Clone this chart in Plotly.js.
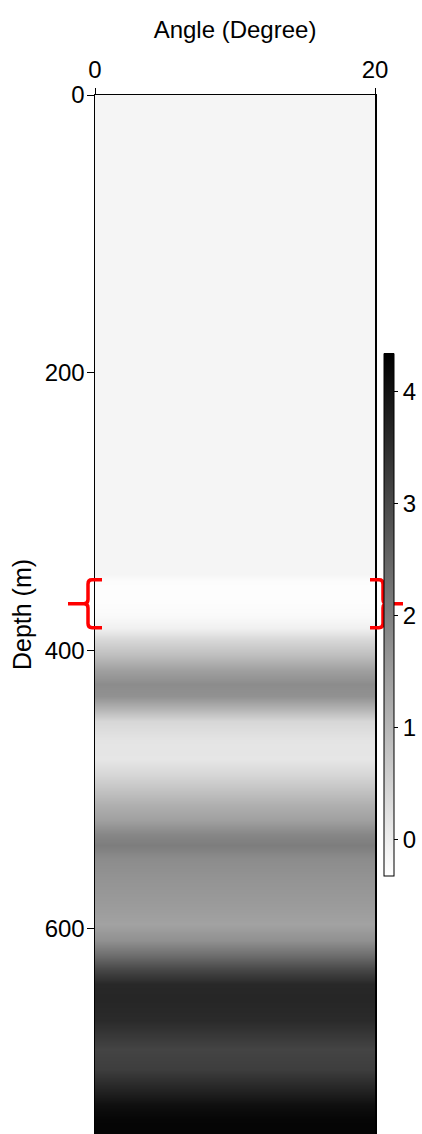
<!DOCTYPE html>
<html>
<head>
<meta charset="utf-8">
<script src="https://cdn.plot.ly/plotly-3.0.1.min.js"></script>
<style>html,body{margin:0;padding:0;background:#fff;}#chart{width:422px;height:1134px;}</style>
</head>
<body>
<div id="chart"></div>
<script>
// Depth samples (m) and the attribute value read from the grey shading
const depths = [0, 335, 345, 350, 363, 374, 384, 392, 403, 414, 424, 433, 442, 451, 464, 478, 489, 500, 511, 522, 532, 540, 550, 565, 583, 597, 608, 619, 630, 640, 651, 666, 676, 687, 701, 716, 727, 737, 748];
const values = [-0.14, -0.14, -0.14, -0.27, -0.29, -0.23, -0.05, 0.41, 0.87, 1.42, 1.78, 1.69, 1.05, 0.41, 0.17, 0.14, 0.41, 0.78, 1.14, 1.42, 1.87, 2.06, 1.78, 1.64, 1.51, 1.38, 1.69, 2.33, 3.06, 3.61, 3.65, 3.57, 3.34, 3.10, 3.21, 3.70, 4.07, 4.23, 4.27];
const angles = [0, 20];
const xTicks = [0, 20];
const yTicks = [0, 200, 400, 600];
const cbTicks = [0, 1, 2, 3, 4];
// highlighted depth interval (bracketed in red)
const bracketTop = 349, bracketBottom = 383.5;

const z = values.map(v => angles.map(() => v));
const FONT = '"Liberation Sans", Arial, sans-serif';

const trace = {
  type: 'heatmap',
  x: angles, y: depths, z: z,
  zsmooth: 'best',
  zmin: -0.32, zmax: 4.34,
  colorscale: [[0, '#ffffff'], [1, '#000000']],
  colorbar: {
    x: 1.032, xanchor: 'left', xpad: 0,
    y: 0.5, yanchor: 'middle', ypad: 0,
    len: 0.502, lenmode: 'fraction', thickness: 10,
    outlinecolor: '#000', outlinewidth: 1,
    tickvals: cbTicks, ticks: 'outside', ticklen: 4, tickcolor: '#000',
    tickfont: {family: FONT, size: 24, color: '#000'}
  },
  hoverinfo: 'skip'
};

const midB = (bracketTop + bracketBottom) / 2;
function px(p) { return (p - 95) / 280; } // pixel x -> paper x (annotation decoration)
const leftPath = `M ${px(102)},${bracketTop} L ${px(92)},${bracketTop} Q ${px(88)},${bracketTop} ${px(88)},${bracketTop+3} L ${px(88)},${midB-3} Q ${px(88)},${midB} ${px(84)},${midB} L ${px(68)},${midB} M ${px(84)},${midB} Q ${px(88)},${midB} ${px(88)},${midB+3} L ${px(88)},${bracketBottom-3} Q ${px(88)},${bracketBottom} ${px(92)},${bracketBottom} L ${px(102)},${bracketBottom}`;
const rightPath = `M ${px(370)},${bracketTop} L ${px(379)},${bracketTop} Q ${px(383)},${bracketTop} ${px(383)},${bracketTop+3} L ${px(383)},${midB-3} Q ${px(383)},${midB} ${px(387)},${midB} L ${px(403)},${midB} M ${px(387)},${midB} Q ${px(383)},${midB} ${px(383)},${midB+3} L ${px(383)},${bracketBottom-3} Q ${px(383)},${bracketBottom} ${px(379)},${bracketBottom} L ${px(370)},${bracketBottom}`;

const layout = {
  width: 422, height: 1134,
  margin: {l: 95, r: 47, t: 95, b: 0, autoexpand: false},
  paper_bgcolor: '#fff', plot_bgcolor: '#f5f5f5',
  font: {family: FONT, color: '#000', size: 24},
  xaxis: {
    side: 'top', range: [0, 20], tickvals: xTicks, ticks: 'outside', ticklen: 6,
    tickcolor: '#000', showline: true, linecolor: '#000', linewidth: 1.5, mirror: false,
    showgrid: false, zeroline: false, fixedrange: true,
    tickfont: {family: FONT, size: 24, color: '#000'},
    title: {text: 'Angle (Degree)', font: {family: FONT, size: 24, color: '#000'}, standoff: 10}
  },
  yaxis: {
    range: [748, 0], tickvals: yTicks, ticks: 'outside', ticklen: 7,
    ticklabelstandoff: -3,
    tickcolor: '#000', showline: true, linecolor: '#000', linewidth: 1.5, mirror: true,
    showgrid: false, zeroline: false, fixedrange: true,
    tickfont: {family: FONT, size: 24, color: '#000'},
    title: {text: 'Depth (m)', font: {family: FONT, size: 25, color: '#000'}, standoff: 6}
  },
  shapes: [
    {type: 'path', xref: 'paper', yref: 'y', path: leftPath, line: {color: '#ff0000', width: 3.5}, layer: 'above'},
    {type: 'path', xref: 'paper', yref: 'y', path: rightPath, line: {color: '#ff0000', width: 3.5}, layer: 'above'}
  ]
};

Plotly.newPlot('chart', [trace], layout, {displayModeBar: false, staticPlot: true});
</script>
</body>
</html>
